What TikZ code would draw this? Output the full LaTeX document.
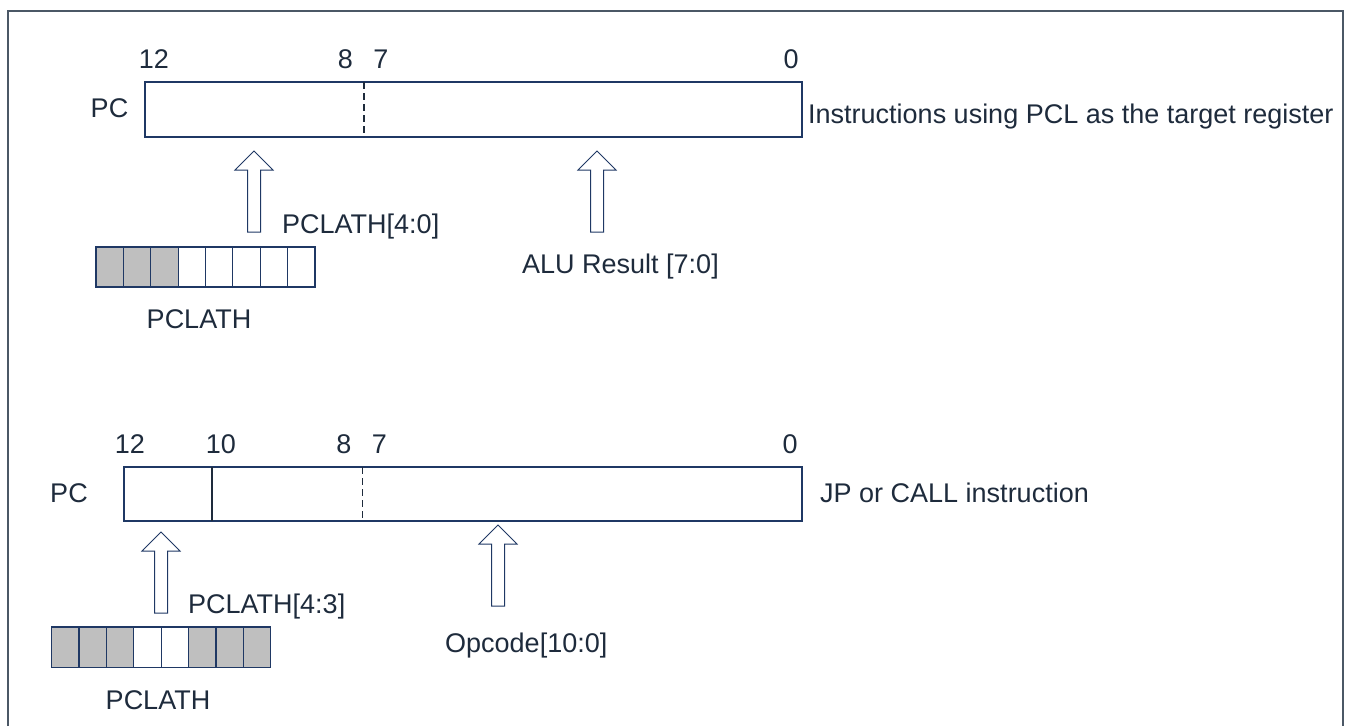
\documentclass[tikz,border=0pt]{standalone}
\usepackage{fontspec}
\setmainfont{Liberation Sans}
\definecolor{txt}{RGB}{30,43,60}
\definecolor{outl}{RGB}{31,56,100}
\definecolor{frm}{RGB}{75,88,102}
\definecolor{cellgray}{RGB}{191,191,191}
\begin{document}
\begin{tikzpicture}[x=1pt,y=-1pt,
  lbl/.style={inner sep=0pt, text=txt, font=\fontsize{27}{32}\selectfont},
  reg/.style={draw=outl, line width=1.3pt, inner sep=0pt, outer sep=0pt},
  divider/.style={draw=txt, line width=1.3pt},
  dashdiv/.style={draw=txt, line width=1.7pt, dash pattern=on 7pt off 4pt},
  cellbox/.style={draw=outl, line width=1.2pt},
  blockup/.pic={\draw[outl, line width=1pt, fill=white] (0,0) -- (19,19) -- (6.5,19) -- (6.5,81) -- (-6.5,81) -- (-6.5,19) -- (-19,19) -- cycle;}]
\useasboundingbox (0,0) rectangle (1349,726);
% frame
\draw[frm, line width=1.6pt] (8,726) -- (8,11) -- (1343,11) -- (1343,726);

% ---------- top ----------
\node[reg, anchor=north west, minimum width=657pt, minimum height=55pt] (pc1) at (145,82) {};
\draw[dashdiv] (364,82) -- (364,137);
\node[lbl, anchor=base] (t12) at (154,68) {12};
\node[lbl, anchor=base] (t8) at (345.5,68) {8};
\node[lbl, anchor=base] (t7) at (381,68) {7};
\node[lbl, anchor=base] (t0) at (791,68) {0};
\node[lbl, anchor=base] (tpc) at (109.5,117) {PC};
\node[lbl, anchor=base west] (tinstr) at (808,123) {Instructions using PCL as the target register};
\pic (ta1) at (254,151) {blockup};
\pic (ta2) at (597,151) {blockup};
\node[lbl, anchor=base west] (tpl) at (282,233) {PCLATH[4:0]};
\node[lbl, anchor=base west] (talu) at (522,273) {ALU Result [7:0]};
\foreach \i/\f in {0/cellgray,1/cellgray,2/cellgray,3/white,4/white,5/white,6/white,7/white}
  \draw[cellbox, fill=\f] (96+\i*27.375,247) rectangle ++(27.375,40);
\node[lbl, anchor=base] (tpclath) at (199,328) {PCLATH};

% ---------- bottom ----------
\node[reg, anchor=north west, minimum width=678pt, minimum height=54pt] (pc2) at (124,467) {};
\draw[divider] (212,467) -- (212,521);
\draw[dashdiv] (362.5,467) -- (362.5,521);
\node[lbl, anchor=base] (b12) at (130,453) {12};
\node[lbl, anchor=base] (b10) at (221,453) {10};
\node[lbl, anchor=base] (b8) at (344,453) {8};
\node[lbl, anchor=base] (b7) at (379.5,453) {7};
\node[lbl, anchor=base] (b0) at (790,453) {0};
\node[lbl, anchor=base] (bpc) at (69,502) {PC};
\node[lbl, anchor=base west] (bjp) at (820,502) {JP or CALL instruction};
\pic (ba1) at (161,532) {blockup};
\pic (ba2) at (498,525) {blockup};
\node[lbl, anchor=base west] (bpl) at (188,613) {PCLATH[4:3]};
\node[lbl, anchor=base west] (bop) at (445,652) {Opcode[10:0]};
\foreach \i/\f in {0/cellgray,1/cellgray,2/cellgray,3/white,4/white,5/cellgray,6/cellgray,7/cellgray}
  \draw[cellbox, fill=\f] (51.5+\i*27.4,627) rectangle ++(27.4,40.5);
\node[lbl, anchor=base] (bpclath) at (158,709) {PCLATH};
\end{tikzpicture}
\end{document}
